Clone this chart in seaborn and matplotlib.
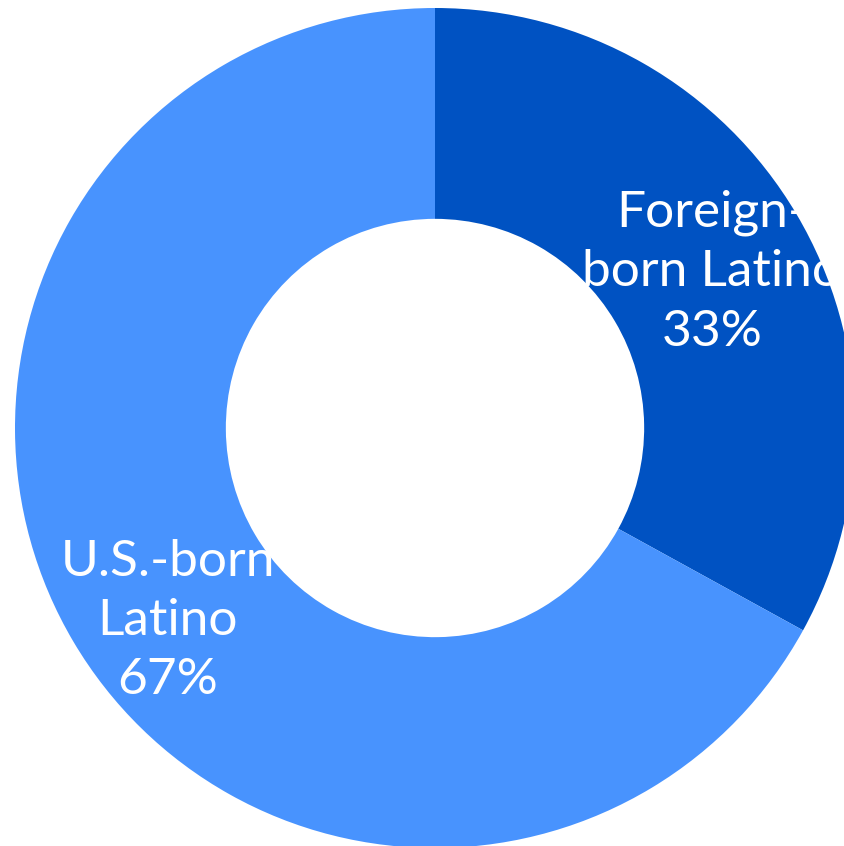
import matplotlib
matplotlib.use("Agg")
import matplotlib.pyplot as plt
import seaborn as sns

# donnees
categories = ["Foreign-\nborn Latino", "U.S.-born\nLatino"]
shares = [33, 67]
colors = ["#0052C2", "#4893FE"]

sns.set_style("white")
plt.rcParams['font.family'] = ['Lato', 'DejaVu Sans']

fig = plt.figure(figsize=(8.44, 8.46), dpi=100)
ax = fig.add_axes([0, 0, 1, 1])

# axes en pixels pour placer le donut comme dans la figure
cx, cy, r = 435, 846 - 428, 420
wedges, _ = ax.pie(shares, colors=colors, startangle=90, counterclock=False,
                   center=(cx, cy), radius=r, frame=False,
                   wedgeprops=dict(width=r * 0.502, linewidth=0))
ax.set_xlim(0, 844)
ax.set_ylim(0, 846)
ax.set_aspect('equal')
ax.axis('off')

# etiquettes (coupees par le segment)
label_pos = [(712, 846 - 272), (168, 846 - 621)]
for w, cat, val, (lx, ly) in zip(wedges, categories, shares, label_pos):
    t = ax.text(lx, ly, f"{cat}\n{val}%", ha='center', va='center',
                color='white', fontsize=37, linespacing=1.36)
    t.set_clip_path(w)

fig.savefig("out.png", dpi=100)
